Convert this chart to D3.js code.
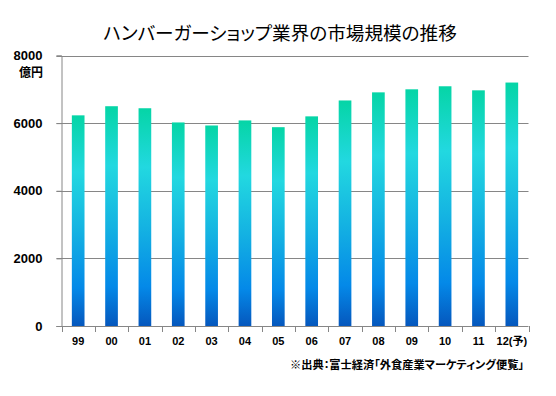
<!DOCTYPE html>
<html><head><meta charset="utf-8">
<script src="https://cdn.jsdelivr.net/npm/d3@7"></script>
<style>
html,body{margin:0;padding:0;background:#fff;}
svg{display:block;}
.palt{font-feature-settings:"palt" 1;}
</style></head>
<body>
<script>
const categories = ["99","00","01","02","03","04","05","06","07","08","09","10","11","12(予)"];
const values = [6230,6500,6440,6020,5930,6080,5880,6200,6670,6910,7000,7090,6970,7200];
const yTicks = [0,2000,4000,6000,8000];
const title = "ハンバーガーショップ業界の市場規模の推移";
const unitLabel = "億円";
const sourceNote = "※出典：富士経済「外食産業マーケティング便覧」";

(function(){
const W = 556, H = 396;
const mLeft = 61.5, mRight = 528.5, mTop = 55.5, mBottom = 326;

const svg = d3.select("body").append("svg").attr("width", W).attr("height", H);

const defs = svg.append("defs");
const grad = defs.append("linearGradient").attr("id","barGrad")
  .attr("x1",0).attr("y1",0).attr("x2",0).attr("y2",1);
[[0,"#05D5A6"],[0.27,"#22D8E0"],[0.55,"#14B2E2"],[0.82,"#0489E8"],[1,"#0557BD"]]
  .forEach(([o,c])=>grad.append("stop").attr("offset",o).attr("stop-color",c));

const x = d3.scaleBand().domain(categories).range([mLeft,mRight]).paddingInner(0.62).paddingOuter(0.31);
const y = d3.scaleLinear().domain([0,8000]).range([mBottom,mTop]);

svg.append("g").selectAll("line").data(yTicks.filter(d=>d>0)).join("line")
  .attr("x1", mLeft-5).attr("x2", mRight)
  .attr("y1", d=>Math.round(y(d))+0.5).attr("y2", d=>Math.round(y(d))+0.5)
  .attr("stroke","#868686").attr("stroke-width",1);

svg.append("g").selectAll("rect").data(values).join("rect")
  .attr("x",(d,i)=>x(categories[i]))
  .attr("width",x.bandwidth())
  .attr("y",d=>y(d))
  .attr("height",d=>y(0)-y(d))
  .attr("fill","url(#barGrad)");

const yAxis = d3.axisLeft(y).tickValues(yTicks).tickSize(5).tickFormat(d3.format("d")).tickPadding(14);
const gy = svg.append("g").attr("transform",`translate(${mLeft},0)`).call(yAxis);
gy.select(".domain").attr("stroke","#868686");
gy.selectAll(".tick line").attr("stroke","#868686");
gy.selectAll("text").attr("font-family","'Liberation Sans', Arial, sans-serif")
  .attr("font-weight","bold").attr("font-size","13px").attr("fill","#000");

const xb = d3.scaleLinear().domain([0,categories.length]).range([mLeft,mRight]);
const gx = svg.append("g").attr("transform",`translate(0,${mBottom})`);
gx.append("line").attr("x1",mLeft-5).attr("x2",mRight).attr("y1",0.5).attr("y2",0.5).attr("stroke","#868686");
gx.selectAll("line.tk").data(d3.range(categories.length+1)).join("line").attr("class","tk")
  .attr("x1",d=>Math.round(xb(d))+0.5).attr("x2",d=>Math.round(xb(d))+0.5)
  .attr("y1",0).attr("y2",6).attr("stroke","#868686");
const xAxis = d3.axisBottom(x).tickSize(0).tickPadding(11);
const gxl = svg.append("g").attr("transform",`translate(0,${mBottom})`).call(xAxis);
gxl.select(".domain").remove();
gxl.selectAll("text").attr("font-family","'Liberation Sans', 'Noto Sans CJK JP', sans-serif")
  .attr("font-weight","bold").attr("font-size","11px").attr("fill","#000").attr("class","palt");

function fitText(sel, target, baseSize){
  const w = sel.node().getComputedTextLength();
  if (w > 0) sel.attr("font-size", (baseSize*target/w).toFixed(2)+"px");
}

const t = svg.append("text").attr("class","palt").attr("x",280).attr("y",40).attr("text-anchor","middle")
  .attr("font-family","'Noto Sans CJK JP', sans-serif").attr("font-size","18px")
  .attr("fill","#000").text(title);
fitText(t, 354, 18);

svg.append("text").attr("x",43).attr("y",77).attr("text-anchor","end")
  .attr("font-family","'Noto Sans CJK JP', sans-serif").attr("font-weight","bold").attr("font-size","12px")
  .attr("fill","#000").text(unitLabel);

const s = svg.append("text").attr("class","palt").attr("x",524).attr("y",369).attr("text-anchor","end")
  .attr("font-family","'Noto Sans CJK JP', sans-serif").attr("font-weight","bold").attr("font-size","12px")
  .attr("fill","#000").text(sourceNote);
fitText(s, 234, 12);
})();
</script>
</body></html>
